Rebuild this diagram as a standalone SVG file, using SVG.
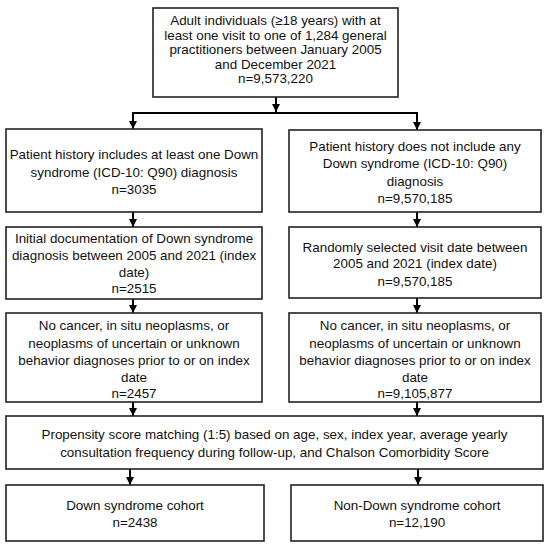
<svg xmlns="http://www.w3.org/2000/svg" width="550" height="549" viewBox="0 0 550 549">
<style>
.box{fill:#fff;stroke:#222;stroke-width:1.6}
.t{font-family:"Liberation Sans",Arial,sans-serif;font-size:13.4px;fill:#111;text-anchor:middle}
.ln{fill:none;stroke:#000;stroke-width:2}
</style>
<defs>
<marker id="ah" viewBox="0 0 8 8" refX="8" refY="4" markerWidth="4" markerHeight="4" orient="auto" markerUnits="strokeWidth">
<path d="M0,0 L8,4 L0,8 z" fill="#000"/>
</marker>
</defs>
<rect width="550" height="549" fill="#fff"/>
<g id="connectors">
<line class="ln" x1="276" y1="97" x2="276" y2="112" marker-end="url(#ah)"/>
<line class="ln" x1="132" y1="113" x2="418" y2="113"/>
<line class="ln" x1="133" y1="112" x2="133" y2="129" marker-end="url(#ah)"/>
<line class="ln" x1="417" y1="112" x2="417" y2="130" marker-end="url(#ah)"/>
<line class="ln" x1="133" y1="212" x2="133" y2="227" marker-end="url(#ah)"/>
<line class="ln" x1="417" y1="212" x2="417" y2="227" marker-end="url(#ah)"/>
<line class="ln" x1="133" y1="299" x2="133" y2="313" marker-end="url(#ah)"/>
<line class="ln" x1="417" y1="298" x2="417" y2="313" marker-end="url(#ah)"/>
<line class="ln" x1="133" y1="402" x2="133" y2="416" marker-end="url(#ah)"/>
<line class="ln" x1="417" y1="402" x2="417" y2="416" marker-end="url(#ah)"/>
<line class="ln" x1="130" y1="469" x2="130" y2="485" marker-end="url(#ah)"/>
<line class="ln" x1="418" y1="469" x2="418" y2="485" marker-end="url(#ah)"/>
</g>
<g id="n0">
<rect class="box" x="153" y="8" width="245" height="89"/>
<text class="t" x="275.5" y="25">Adult individuals (≥18 years) with at</text>
<text class="t" x="275.5" y="39.5">least one visit to one of 1,284 general</text>
<text class="t" x="275.5" y="54">practitioners between January 2005</text>
<text class="t" x="275.5" y="68.5">and December 2021</text>
<text class="t" x="275.5" y="83">n=9,573,220</text>
</g>
<g id="n1">
<rect class="box" x="6" y="129" width="256" height="83"/>
<text class="t" x="134" y="159">Patient history includes at least one Down</text>
<text class="t" x="134" y="177">syndrome (ICD-10: Q90) diagnosis</text>
<text class="t" x="134" y="194">n=3035</text>
</g>
<g id="n2">
<rect class="box" x="289" y="130" width="252" height="82"/>
<text class="t" x="415" y="151">Patient history does not include any</text>
<text class="t" x="415" y="168">Down syndrome (ICD-10: Q90)</text>
<text class="t" x="415" y="186">diagnosis</text>
<text class="t" x="415" y="203">n=9,570,185</text>
</g>
<g id="n3">
<rect class="box" x="6" y="227" width="256" height="72"/>
<text class="t" x="134" y="243">Initial documentation of Down syndrome</text>
<text class="t" x="134" y="260">diagnosis between 2005 and 2021 (index</text>
<text class="t" x="134" y="277">date)</text>
<text class="t" x="134" y="293">n=2515</text>
</g>
<g id="n4">
<rect class="box" x="289" y="227" width="252" height="71"/>
<text class="t" x="415" y="252">Randomly selected visit date between</text>
<text class="t" x="415" y="268">2005 and 2021 (index date)</text>
<text class="t" x="415" y="286">n=9,570,185</text>
</g>
<g id="n5">
<rect class="box" x="6" y="313" width="256" height="89"/>
<text class="t" x="134" y="330">No cancer, in situ neoplasms, or</text>
<text class="t" x="134" y="348">neoplasms of uncertain or unknown</text>
<text class="t" x="134" y="365">behavior diagnoses prior to or on index</text>
<text class="t" x="134" y="382">date</text>
<text class="t" x="134" y="398">n=2457</text>
</g>
<g id="n6">
<rect class="box" x="289" y="313" width="252" height="89"/>
<text class="t" x="415" y="330">No cancer, in situ neoplasms, or</text>
<text class="t" x="415" y="348">neoplasms of uncertain or unknown</text>
<text class="t" x="415" y="365">behavior diagnoses prior to or on index</text>
<text class="t" x="415" y="382">date</text>
<text class="t" x="415" y="398">n=9,105,877</text>
</g>
<g id="n7">
<rect class="box" x="6" y="416" width="537" height="53"/>
<text class="t" x="274.5" y="439">Propensity score matching (1:5) based on age, sex, index year, average yearly</text>
<text class="t" x="274.5" y="457">consultation frequency during follow-up, and Chalson Comorbidity Score</text>
</g>
<g id="n8">
<rect class="box" x="6" y="485" width="258" height="56"/>
<text class="t" x="135" y="510">Down syndrome cohort</text>
<text class="t" x="135" y="527">n=2438</text>
</g>
<g id="n9">
<rect class="box" x="291" y="485" width="252" height="56"/>
<text class="t" x="417" y="510">Non-Down syndrome cohort</text>
<text class="t" x="417" y="527">n=12,190</text>
</g>
</svg>
